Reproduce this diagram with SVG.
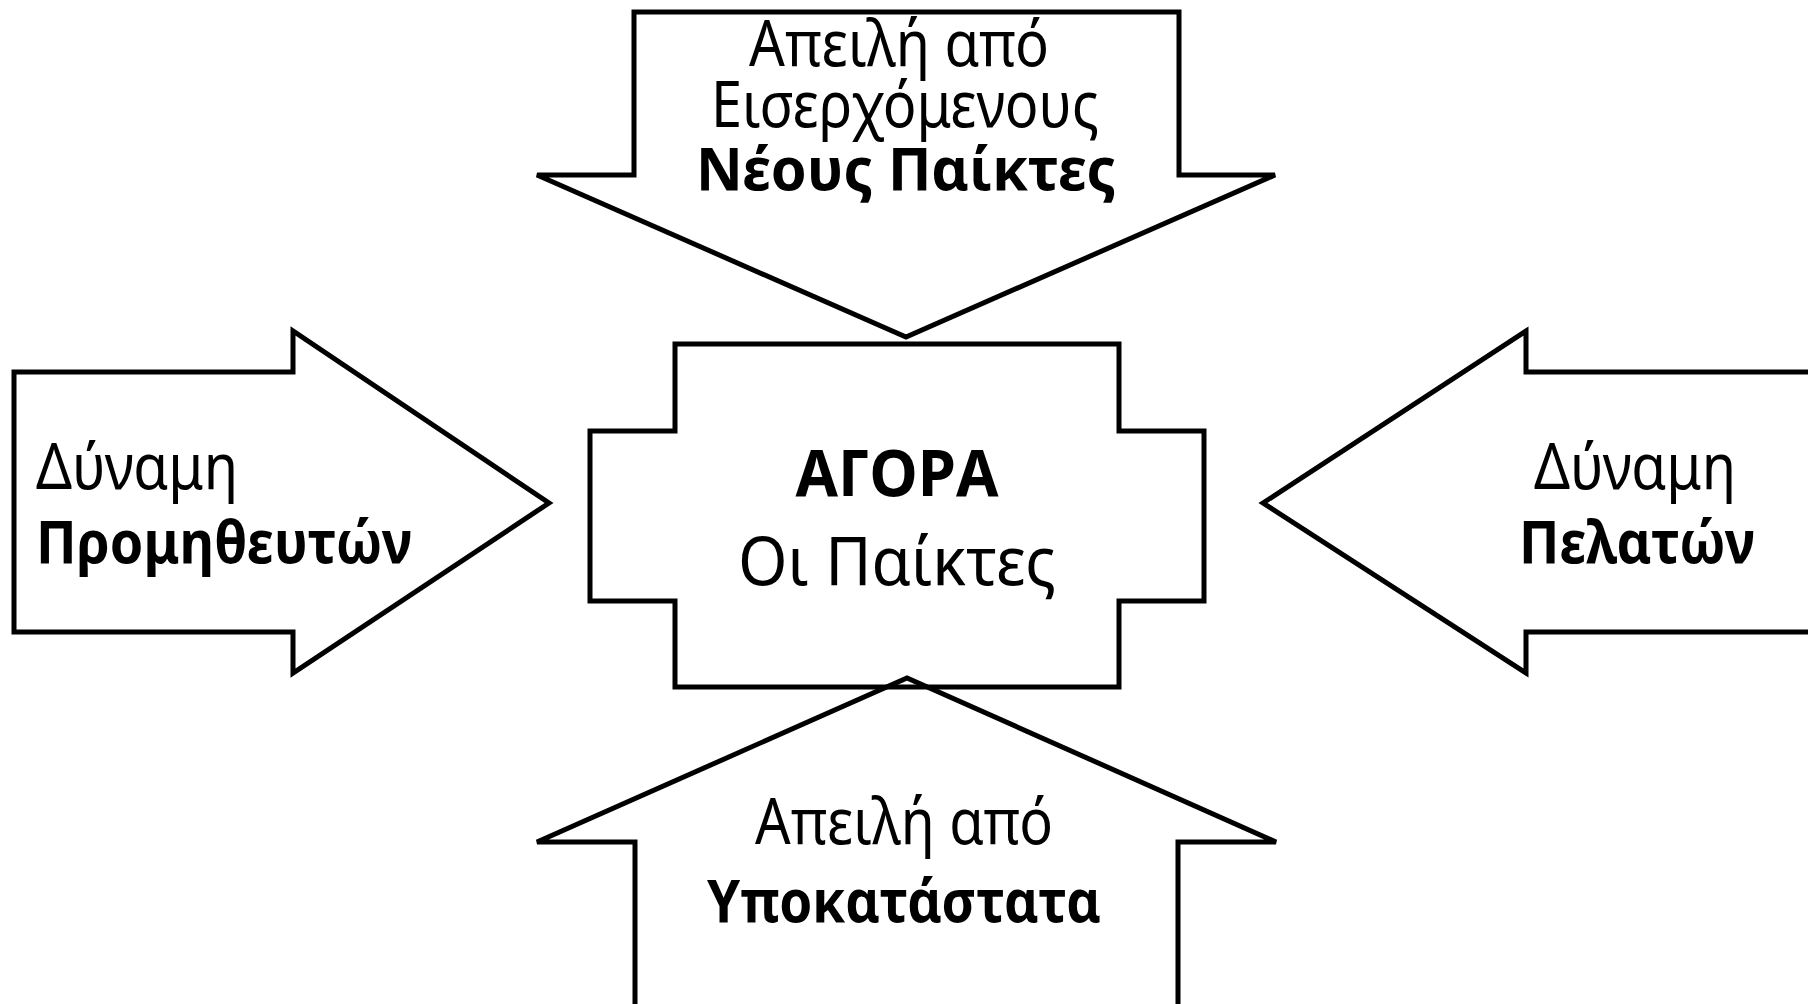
<svg xmlns="http://www.w3.org/2000/svg" width="1808" height="1004" viewBox="0 0 1808 1004">
<style>
.shape{fill:none;stroke:#000;stroke-width:5;stroke-linejoin:miter}
.t{font-family:"Noto Sans","Open Sans","DejaVu Sans",sans-serif;font-size:63px;fill:#000;text-anchor:middle}
.b{font-weight:bold;font-size:60px}
.l{text-anchor:start}
</style>
<rect width="1808" height="1004" fill="#fff"/>
<g id="connectors">
  <g id="arrow-top">
    <polygon class="shape" points="634,12 1179,12 1179,175 1275,175 906,337 537,175 634,175"/>
    <text class="t" x="899" y="66" textLength="300" lengthAdjust="spacingAndGlyphs">Απειλή από</text>
    <text class="t" x="905" y="127" textLength="388" lengthAdjust="spacingAndGlyphs">Εισερχόμενους</text>
    <text class="t b" x="906" y="190" textLength="420" lengthAdjust="spacingAndGlyphs">Νέους Παίκτες</text>
  </g>
  <g id="arrow-left">
    <polygon class="shape" points="14,372 293,372 293,331 549,503 293,673 293,632 14,632"/>
    <text class="t l" x="36" y="489" textLength="202" lengthAdjust="spacingAndGlyphs">Δύναμη</text>
    <text class="t b l" x="36" y="563" textLength="376" lengthAdjust="spacingAndGlyphs">Προμηθευτών</text>
  </g>
  <g id="arrow-right">
    <polygon class="shape" points="1820,372 1526,372 1526,331 1263,503 1526,673 1526,632 1820,632"/>
    <text class="t" x="1635" y="489" textLength="202" lengthAdjust="spacingAndGlyphs">Δύναμη</text>
    <text class="t b" x="1637" y="563" textLength="236" lengthAdjust="spacingAndGlyphs">Πελατών</text>
  </g>
  <g id="arrow-bottom">
    <polygon class="shape" points="635,1020 635,842 537,842 907,678 1276,842 1178,842 1178,1020"/>
    <text class="t" x="904" y="844" textLength="298" lengthAdjust="spacingAndGlyphs">Απειλή από</text>
    <text class="t b" x="904" y="922" textLength="394" lengthAdjust="spacingAndGlyphs">Υποκατάστατα</text>
  </g>
</g>
<g id="market">
  <polygon class="shape" points="675,344 1119,344 1119,431 1204,431 1204,601 1119,601 1119,687 675,687 675,601 590,601 590,431 675,431"/>
  <text class="t b" x="897" y="496" style="font-size:65px" textLength="203" lengthAdjust="spacingAndGlyphs">ΑΓΟΡΑ</text>
  <text class="t" x="897" y="585" style="font-size:67px" textLength="318" lengthAdjust="spacingAndGlyphs">Οι Παίκτες</text>
</g>
</svg>
